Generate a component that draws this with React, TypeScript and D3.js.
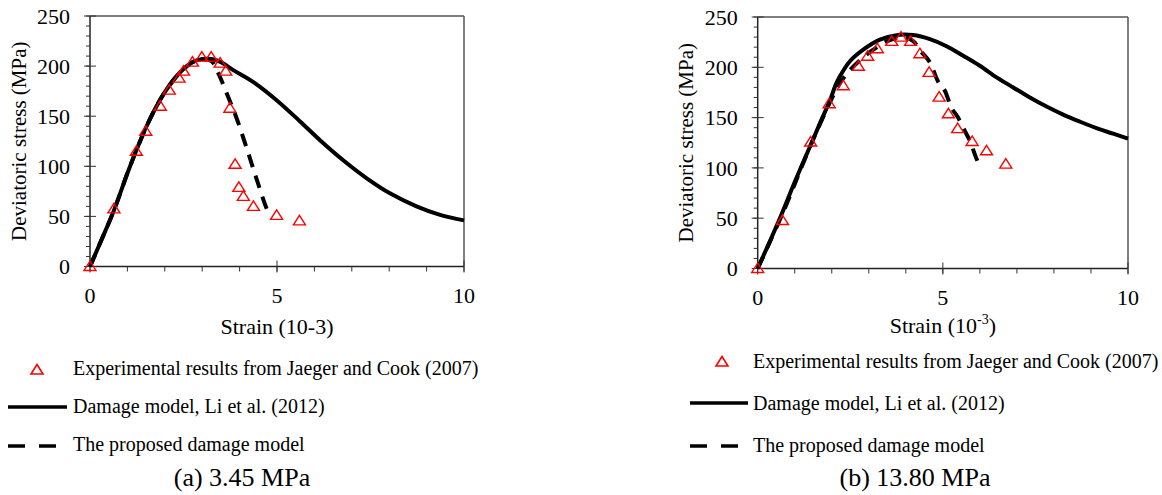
import * as d3 from "d3";

// strain (10^-3), deviatoric stress (MPa)
const expA: [number, number][] = [
  [0, 0], [0.64, 57.5], [1.24, 115], [1.49, 135], [1.88, 160], [2.12, 176],
  [2.38, 188], [2.5, 195], [2.74, 204], [2.99, 209], [3.24, 209], [3.48, 203],
  [3.63, 195], [3.74, 158], [3.88, 102], [3.98, 79], [4.1, 70], [4.37, 60],
  [4.99, 51], [5.6, 45.5],
];
const liA: [number, number][] = [
  [0, 0], [0.3, 26], [0.64, 56], [1.0, 93], [1.24, 116], [1.5, 139], [1.75, 158],
  [2.0, 174], [2.25, 187], [2.5, 197], [2.75, 204], [3.0, 207], [3.25, 207],
  [3.5, 204], [3.83, 196], [4.37, 184], [4.99, 166], [5.61, 145], [6.15, 126],
  [6.77, 106], [7.4, 88], [8.02, 73], [8.73, 60], [9.36, 51.5], [10, 46],
];
const proposedA: [number, number][] = [
  [0, 0], [0.3, 26], [0.64, 56], [1.0, 93], [1.24, 116], [1.5, 139], [1.75, 158],
  [2.0, 174], [2.25, 187], [2.5, 197], [2.75, 204], [3.0, 207], [3.25, 205],
  [3.43, 193], [3.61, 177], [3.92, 148], [4.19, 118], [4.44, 89], [4.71, 59],
  [4.82, 50],
];

const expB: [number, number][] = [
  [0, 0], [0.67, 47.7], [1.43, 125.7], [1.93, 163.8], [2.31, 181.7], [2.72, 201],
  [2.97, 211], [3.23, 218.5], [3.62, 225.8], [3.87, 230], [4.13, 225.8],
  [4.38, 213.5], [4.63, 195], [4.9, 170.4], [5.15, 153.8], [5.4, 139],
  [5.79, 126.3], [6.18, 117], [6.7, 103.8],
];
const liB: [number, number][] = [
  [0, 0], [0.6, 50], [1.0, 86], [1.41, 121], [1.7, 146], [1.95, 167], [2.1, 182],
  [2.22, 191], [2.49, 206], [2.85, 217.5], [3.3, 227.5], [3.75, 232], [4.2, 232],
  [4.65, 228], [5.1, 221], [5.55, 211.5], [6.0, 201.5], [6.45, 190], [6.9, 180],
  [7.35, 170], [7.8, 161], [8.25, 153], [8.7, 146], [9.15, 139.5], [9.6, 134],
  [10, 129],
];
const proposedB: [number, number][] = [
  [0, 0], [0.7, 57], [1.4, 120], [1.95, 165], [2.2, 183], [2.44, 195], [2.76, 207],
  [3.1, 217], [3.5, 226], [3.9, 230], [4.2, 226], [4.38, 217], [4.65, 205],
  [4.87, 186], [5.05, 177], [5.23, 160], [5.41, 150], [5.59, 137], [5.73, 127],
  [5.91, 109], [6.0, 102],
];

const xMajor = [0, 5, 10];
const xMinor = d3.range(0, 11, 1);
const yMajor = [0, 50, 100, 150, 200, 250];
const yMinor = d3.range(0, 251, 10);

const legendLabels = [
  "Experimental results from Jaeger and Cook (2007)",
  "Damage model, Li et al. (2012)",
  "The proposed damage model",
];

const FONT = "'Liberation Serif', 'Times New Roman', serif";
const RED = "#ff0000";

const tri = (cx: number, cy: number) =>
  `M${cx},${cy - 5.5}L${cx + 6},${cy + 4}L${cx - 6},${cy + 4}Z`;

type Frame = { x0: number; x1: number; y0: number; y1: number };

type PanelProps = {
  frame: Frame;
  exp: [number, number][];
  li: [number, number][];
  proposed: [number, number][];
  yTitleX: number;
  xTitle: React.ReactNode;
  xTitleY: number;
  legend: { triX: number; textX: number; lineX0: number; lineX1: number; dashX1: number; ys: number[]; lineYs: number[] };
  caption: string;
  captionX: number;
};

const Panel = ({ frame, exp, li, proposed, yTitleX, xTitle, xTitleY, legend, caption, captionX }: PanelProps) => {
  const x = d3.scaleLinear().domain([0, 10]).range([frame.x0, frame.x1]);
  const y = d3.scaleLinear().domain([0, 250]).range([frame.y0, frame.y1]);
  const line = d3
    .line<[number, number]>()
    .x((d) => x(d[0]))
    .y((d) => y(d[1]))
    .curve(d3.curveCatmullRom.alpha(0.5));

  return (
    <g fontFamily={FONT} fill="#000">
      {/* frame */}
      <line x1={frame.x0} x2={frame.x1} y1={frame.y1} y2={frame.y1} stroke="#555" strokeWidth={1.5} />
      <line x1={frame.x1} x2={frame.x1} y1={frame.y1} y2={frame.y0} stroke="#555" strokeWidth={1.5} />
      <line x1={frame.x0} x2={frame.x1} y1={frame.y0} y2={frame.y0} stroke="#222" strokeWidth={1.5} />
      <line x1={frame.x0} x2={frame.x0} y1={frame.y0} y2={frame.y1} stroke="#222" strokeWidth={1.5} />

      {/* ticks */}
      {xMinor.map((t) => (
        <line key={"xm" + t} x1={x(t)} x2={x(t)} y1={frame.y0} y2={frame.y0 + 5} stroke="#333" />
      ))}
      {xMajor.map((t) => (
        <g key={"xM" + t}>
          <line x1={x(t)} x2={x(t)} y1={frame.y0 - 6} y2={frame.y0 + 6} stroke="#333" />
          <text x={x(t)} y={frame.y0 + 36} textAnchor="middle" fontSize={22}>
            {t}
          </text>
        </g>
      ))}
      {yMinor.map((t) => (
        <line key={"ym" + t} x1={frame.x0 - 4} x2={frame.x0} y1={y(t)} y2={y(t)} stroke="#333" />
      ))}
      {yMajor.map((t) => (
        <g key={"yM" + t}>
          <line x1={frame.x0 - 6} x2={frame.x0 + 6} y1={y(t)} y2={y(t)} stroke="#333" />
          <text x={frame.x0 - 20} y={y(t)} dy="0.35em" textAnchor="end" fontSize={22}>
            {t}
          </text>
        </g>
      ))}

      {/* series */}
      <path d={line(li) || ""} fill="none" stroke="#000" strokeWidth={4} />
      <path d={line(proposed) || ""} fill="none" stroke="#000" strokeWidth={4} strokeDasharray="13,9" />
      {exp.map((d, i) => (
        <path key={i} d={tri(x(d[0]), y(d[1]))} fill="none" stroke={RED} strokeWidth={1.4} />
      ))}

      {/* titles */}
      <text
        transform={`translate(${yTitleX},${(frame.y0 + frame.y1) / 2}) rotate(-90)`}
        textAnchor="middle"
        fontSize={21}
      >
        Deviatoric stress (MPa)
      </text>
      <text x={(frame.x0 + frame.x1) / 2} y={xTitleY} textAnchor="middle" fontSize={22}>
        {xTitle}
      </text>

      {/* legend */}
      <path d={tri(legend.triX, legend.lineYs[0])} fill="none" stroke={RED} strokeWidth={1.6} />
      <line x1={legend.lineX0} x2={legend.lineX1} y1={legend.lineYs[1]} y2={legend.lineYs[1]} stroke="#000" strokeWidth={3.5} />
      <line
        x1={legend.lineX0}
        x2={legend.dashX1}
        y1={legend.lineYs[2]}
        y2={legend.lineYs[2]}
        stroke="#000"
        strokeWidth={3.5}
        strokeDasharray="17,14"
      />
      {legendLabels.map((l, i) => (
        <text key={l} x={legend.textX} y={legend.ys[i]} fontSize={20}>
          {l}
        </text>
      ))}

      <text x={captionX} y={486} textAnchor="middle" fontSize={26}>
        {caption}
      </text>
    </g>
  );
};

export default function App() {
  return (
    <svg width={1162} height={495} style={{ position: "absolute", left: 0, top: 0, background: "#fff" }}>
      <Panel
        frame={{ x0: 90, x1: 464, y0: 266.5, y1: 16 }}
        exp={expA}
        li={liA}
        proposed={proposedA}
        yTitleX={26}
        xTitle="Strain (10-3)"
        xTitleY={334}
        legend={{ triX: 37, textX: 73, lineX0: 8, lineX1: 67, dashX1: 56, ys: [375, 413, 451], lineYs: [370, 407, 446] }}
        caption="(a) 3.45 MPa"
        captionX={242}
      />
      <Panel
        frame={{ x0: 757.7, x1: 1128, y0: 268.5, y1: 17 }}
        exp={expB}
        li={liB}
        proposed={proposedB}
        yTitleX={693}
        xTitle={
          <>
            Strain (10
            <tspan fontSize={14} dy={-9}>
              -3
            </tspan>
            <tspan dy={9}>)</tspan>
          </>
        }
        xTitleY={333}
        legend={{ triX: 722, textX: 753, lineX0: 690, lineX1: 748, dashX1: 738, ys: [368, 410, 452], lineYs: [362, 403, 446] }}
        caption="(b) 13.80 MPa"
        captionX={915}
      />
    </svg>
  );
}
